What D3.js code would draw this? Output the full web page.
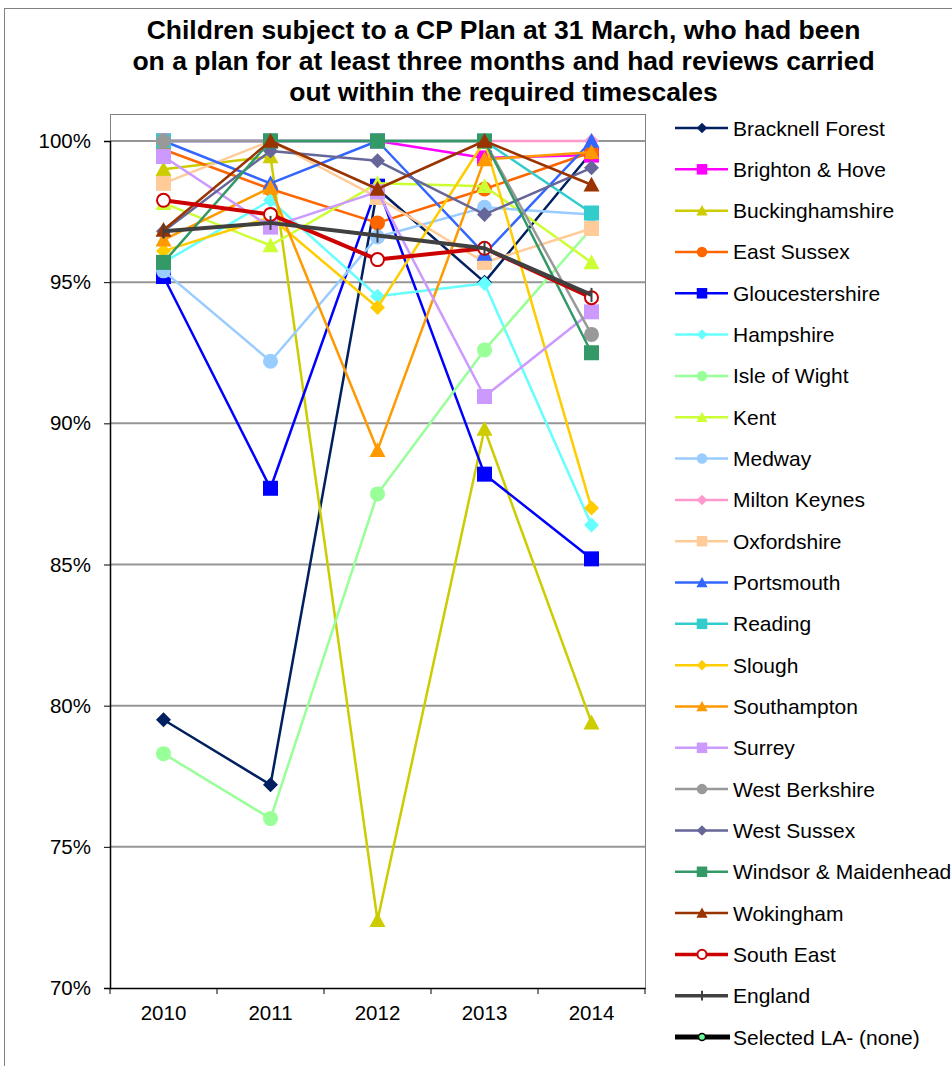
<!DOCTYPE html>
<html>
<head>
<meta charset="utf-8">
<script src="https://cdn.jsdelivr.net/npm/d3@7/dist/d3.min.js"></script>
<style>
  html, body { margin: 0; padding: 0; background: #fff; }
  svg { display: block; font-family: "Liberation Sans", Arial, sans-serif; }
</style>
</head>
<body>
<svg id="chart" width="952" height="1066"></svg>
<script>
const titleLines = [
  "Children subject to a CP Plan at 31 March, who had been",
  "on a plan for at least three months and had reviews carried",
  "out within the required timescales"
];
const years = ["2010", "2011", "2012", "2013", "2014"];
const yTicks = [0.70, 0.75, 0.80, 0.85, 0.90, 0.95, 1.00];

const bracknellForest   = [79.5, 77.2, 98.3, 95.0, 99.6];
const brightonHove      = [100, 100, 100, 99.4, 99.5];
const buckinghamshire   = [99.0, 99.45, 72.4, 89.8, 79.4];
const eastSussex        = [99.7, 98.3, 97.1, 98.3, 99.6];
const gloucestershire   = [95.2, 87.7, 98.4, 88.2, 85.2];
const hampshire         = [95.7, 97.9, 94.5, 94.95, 86.4];
const isleOfWight       = [78.3, 76.0, 87.5, 92.6, 96.9];
const kent              = [97.8, 96.3, 98.5, 98.4, 95.7];
const medway            = [95.4, 92.2, 96.6, 97.65, 97.4];
const miltonKeynes      = [100, 100, 100, 100, 100];
const oxfordshire       = [98.5, 100, 98.0, 95.7, 96.9];
const portsmouth        = [100, 98.5, 100, 96.0, 100];
const reading           = [100, 100, 100, 100, 97.45];
const slough            = [96.1, 97.3, 94.1, 100, 87.0];
const southampton       = [96.5, 98.35, 89.05, 99.35, 99.6];
const surrey            = [99.45, 96.95, 98.2, 90.95, 93.95];
const westBerkshire     = [100, 100, 100, 100, 93.15];
const westSussex        = [96.8, 99.65, 99.3, 97.4, 99.05];
const windsorMaidenhead = [95.7, 100, 100, 100, 92.5];
const wokingham         = [96.85, 100, 98.3, 100, 98.45];
const southEast         = [97.9, 97.4, 95.8, 96.2, 94.45];
const england           = [96.8, 97.1, 96.65, 96.2, 94.55];
const selectedLA        = [];

const seriesNames = [
  "Bracknell Forest", "Brighton & Hove", "Buckinghamshire", "East Sussex",
  "Gloucestershire", "Hampshire", "Isle of Wight", "Kent", "Medway",
  "Milton Keynes", "Oxfordshire", "Portsmouth", "Reading", "Slough",
  "Southampton", "Surrey", "West Berkshire", "West Sussex",
  "Windsor & Maidenhead", "Wokingham", "South East", "England",
  "Selected LA- (none)"
];
const seriesValues = [
  bracknellForest, brightonHove, buckinghamshire, eastSussex, gloucestershire,
  hampshire, isleOfWight, kent, medway, miltonKeynes, oxfordshire, portsmouth,
  reading, slough, southampton, surrey, westBerkshire, westSussex,
  windsorMaidenhead, wokingham, southEast, england, selectedLA
];
const seriesColors = [
  "#002060", "#FF00FF", "#CCCC00", "#FF6600", "#0000FF", "#66FFFF", "#99FF99",
  "#CCFF33", "#99CCFF", "#FF99CC", "#FFCC99", "#3366FF", "#33CCCC", "#FFCC00",
  "#FF9900", "#CC99FF", "#999999", "#666699", "#339966", "#993300", "#CC0000",
  "#404040", "#000000"
];
const seriesMarkers = [
  "diamond", "square", "triangle", "circle", "square", "diamond", "circle",
  "triangle", "circle", "diamond", "square", "triangle", "square", "diamond",
  "triangle", "square", "circle", "diamond", "square", "triangle", "hollow",
  "plus", "selected"
];

const svg = d3.select("#chart");

// layout
const plotL = 110, plotR = 645, plotT = 114, plotB = 988;

const x = d3.scaleBand().domain(years).range([plotL, plotR]);
const y = d3.scaleLinear().domain([0.70, 1.00]).range([plotB, 141]);

// outer chart border
svg.append("rect").attr("x", 4.5).attr("y", 8.5).attr("width", 1000).attr("height", 1100)
  .attr("fill", "none").attr("stroke", "#808080").attr("stroke-width", 1);

// title
svg.append("text").attr("text-anchor", "middle")
  .attr("font-size", 26.5).attr("font-weight", "bold").attr("fill", "#000")
  .selectAll("tspan").data(titleLines).join("tspan")
  .attr("x", 503.5).attr("y", (d, i) => 39 + i * 31).text(d => d);

// plot frame (top/right)
svg.append("rect").attr("x", plotL + 0.5).attr("y", plotT + 0.5)
  .attr("width", plotR - plotL).attr("height", plotB - plotT)
  .attr("fill", "none").attr("stroke", "#808080").attr("stroke-width", 1);

// gridlines
svg.append("g").selectAll("line").data(yTicks.slice(1)).join("line")
  .attr("x1", plotL).attr("x2", plotR)
  .attr("y1", d => y(d)).attr("y2", d => y(d))
  .attr("stroke", "#969696").attr("stroke-width", 2);

// y axis
const yAxis = d3.axisLeft(y).tickValues(yTicks).tickFormat(d3.format(".0%"))
  .tickSize(6).tickPadding(13);
const gy = svg.append("g").attr("transform", `translate(${plotL},0)`).call(yAxis);
gy.attr("font-size", null).attr("font-family", null);
gy.select(".domain").attr("stroke", "#000").attr("stroke-width", 1.5);
gy.selectAll(".tick line").attr("stroke", "#000");
gy.selectAll(".tick text").attr("font-size", 20.5).attr("fill", "#000")
  .attr("font-family", "Liberation Sans, Arial, sans-serif");

// x axis
const xAxis = d3.axisBottom(x).tickSize(0).tickPadding(17);
const gx = svg.append("g").attr("transform", `translate(0,${plotB})`).call(xAxis);
gx.attr("font-size", null).attr("font-family", null);
gx.select(".domain").attr("stroke", "#000").attr("stroke-width", 1.5);
gx.selectAll(".tick text").attr("font-size", 20.5).attr("fill", "#000")
  .attr("font-family", "Liberation Sans, Arial, sans-serif");
// band boundary ticks
const bounds = years.map(d => x(d)).concat([plotR]);
gx.append("g").selectAll("line").data(bounds).join("line")
  .attr("x1", d => d).attr("x2", d => d).attr("y1", 0).attr("y2", 6)
  .attr("stroke", "#000").attr("stroke-width", 1);

// marker drawing
function drawMarker(g, type, color, cx, cy, scale) {
  const s = scale || 1;
  if (type === "diamond") {
    const h = 7.5 * s;
    g.append("path").attr("d", `M${cx},${cy - h}L${cx + h},${cy}L${cx},${cy + h}L${cx - h},${cy}Z`)
      .attr("fill", color);
  } else if (type === "square") {
    const h = 7.5 * s;
    g.append("rect").attr("x", cx - h).attr("y", cy - h).attr("width", 2 * h).attr("height", 2 * h)
      .attr("fill", color);
  } else if (type === "triangle") {
    const h = 8 * s;
    g.append("path").attr("d", `M${cx},${cy - h}L${cx + h},${cy + h * 0.85}L${cx - h},${cy + h * 0.85}Z`)
      .attr("fill", color);
  } else if (type === "circle") {
    g.append("circle").attr("cx", cx).attr("cy", cy).attr("r", 7.5 * s).attr("fill", color);
  } else if (type === "hollow") {
    g.append("circle").attr("cx", cx).attr("cy", cy).attr("r", 6.5 * s)
      .attr("fill", "#fff").attr("stroke", color).attr("stroke-width", 2);
  } else if (type === "plus") {
    const h = 7 * s;
    g.append("path").attr("d", `M${cx},${cy - h}V${cy + h}`)
      .attr("stroke", color).attr("stroke-width", 2);
  } else if (type === "selected") {
    g.append("circle").attr("cx", cx).attr("cy", cy).attr("r", 5 * s)
      .attr("fill", "#66FF99").attr("stroke", "#000").attr("stroke-width", 1.5);
  }
}

const line = d3.line().x(d => x(d.year) + x.bandwidth() / 2).y(d => y(d.v / 100));

const gSeries = svg.append("g");
seriesNames.forEach((name, i) => {
  const vals = seriesValues[i];
  if (!vals.length) return;
  const pts = vals.map((v, j) => ({ year: years[j], v }));
  const thick = (name === "South East" || name === "England");
  const g = gSeries.append("g");
  g.append("path").datum(pts).attr("d", line).attr("fill", "none")
    .attr("stroke", seriesColors[i]).attr("stroke-width", thick ? 4 : 2.5)
    .attr("stroke-linejoin", "round");
  pts.forEach(p => drawMarker(g, seriesMarkers[i], seriesColors[i],
    x(p.year) + x.bandwidth() / 2, y(p.v / 100), 1));
});

// legend
const legTop = 128, legStep = 41.32;
const gLeg = svg.append("g");
seriesNames.forEach((name, i) => {
  const cy = legTop + i * legStep;
  const g = gLeg.append("g");
  const thick = (name === "South East" || name === "England");
  const isSel = name.startsWith("Selected");
  g.append("line").attr("x1", 675).attr("x2", isSel ? 730 : 728)
    .attr("y1", cy).attr("y2", cy)
    .attr("stroke", seriesColors[i]).attr("stroke-width", isSel ? 5 : (thick ? 3.5 : 2.5));
  drawMarker(g, seriesMarkers[i], seriesColors[i], 702, cy, 0.7);
  g.append("text").attr("x", 733).attr("y", cy + 7.5).attr("font-size", 21)
    .attr("fill", "#000").text(name);
});
</script>
</body>
</html>
